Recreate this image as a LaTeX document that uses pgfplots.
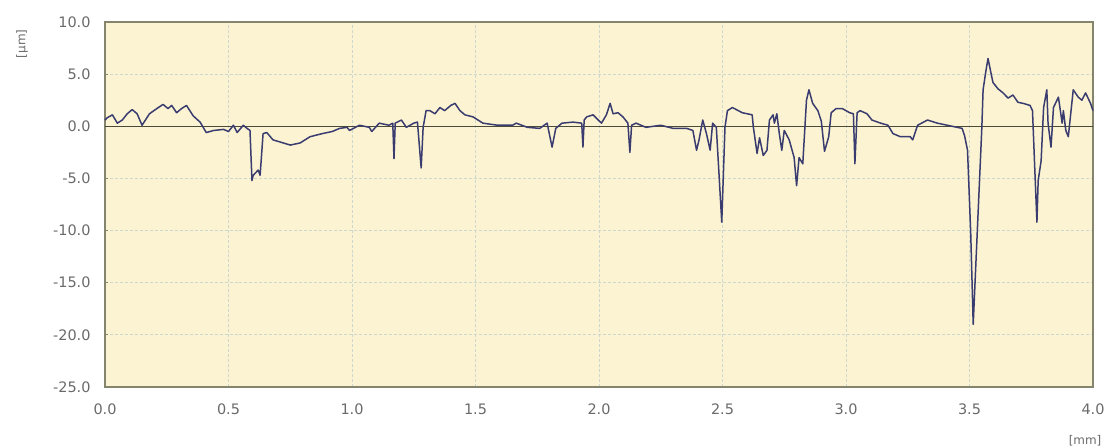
\documentclass[border=0pt]{standalone}
\usepackage{pgfplots}
\pgfplotsset{compat=1.18}
\usepackage{pgfplotstable}
\usepackage{fontspec}
\setmainfont{DejaVu Sans}
\definecolor{bgfill}{HTML}{FBF3D2}
\definecolor{framec}{HTML}{85856E}
\definecolor{gridc}{HTML}{CCD8CE}
\definecolor{linec}{HTML}{3A3C70}
\definecolor{zeroc}{HTML}{4A4A38}
\definecolor{labc}{HTML}{6A6A6A}
\pgfplotstableread{
x y
0.0 0.6
0.008 0.8
0.03 1.1
0.05 0.3
0.07 0.6
0.09 1.2
0.11 1.6
0.13 1.2
0.15 0.1
0.18 1.2
0.21 1.7
0.235 2.1
0.255 1.7
0.27 2.0
0.29 1.3
0.31 1.7
0.33 2.0
0.357 1.0
0.385 0.4
0.41 -0.6
0.44 -0.4
0.48 -0.3
0.50 -0.5
0.52 0.1
0.535 -0.6
0.56 0.1
0.575 -0.2
0.587 -0.4
0.595 -5.2
0.60 -4.7
0.62 -4.2
0.628 -4.7
0.64 -0.7
0.655 -0.6
0.68 -1.3
0.75 -1.8
0.79 -1.6
0.83 -1.0
0.88 -0.7
0.92 -0.5
0.95 -0.2
0.98 -0.1
0.99 -0.4
1.03 0.1
1.07 -0.1
1.08 -0.5
1.11 0.3
1.15 0.1
1.165 0.3
1.17 -3.1
1.175 0.3
1.20 0.6
1.22 -0.1
1.25 0.3
1.265 0.4
1.28 -4.0
1.288 -0.1
1.30 1.5
1.315 1.5
1.336 1.2
1.356 1.8
1.375 1.5
1.40 2.0
1.417 2.2
1.437 1.5
1.457 1.1
1.49 0.9
1.53 0.3
1.59 0.1
1.65 0.1
1.665 0.3
1.71 -0.1
1.76 -0.2
1.79 0.3
1.81 -2.0
1.825 -0.2
1.85 0.3
1.895 0.4
1.93 0.3
1.935 -2.0
1.94 0.6
1.95 0.9
1.976 1.1
2.01 0.3
2.03 1.1
2.045 2.2
2.057 1.2
2.077 1.3
2.097 0.9
2.117 0.3
2.125 -2.5
2.132 0.1
2.15 0.3
2.19 -0.1
2.25 0.1
2.30 -0.2
2.355 -0.2
2.38 -0.4
2.395 -2.3
2.405 -1.3
2.42 0.6
2.435 -0.7
2.45 -2.3
2.46 0.3
2.475 -0.1
2.497 -9.2
2.51 -0.1
2.52 1.5
2.54 1.8
2.58 1.3
2.62 1.1
2.625 -0.1
2.64 -2.6
2.65 -1.1
2.665 -2.8
2.68 -2.3
2.69 0.6
2.705 1.1
2.71 0.3
2.72 1.2
2.73 -0.7
2.74 -2.3
2.75 -0.4
2.77 -1.3
2.79 -3.0
2.80 -5.7
2.81 -3.0
2.825 -3.6
2.84 2.5
2.85 3.5
2.865 2.2
2.886 1.5
2.90 0.5
2.913 -2.4
2.93 -1.0
2.94 1.3
2.96 1.7
2.985 1.7
3.015 1.3
3.03 1.2
3.036 -3.6
3.045 1.3
3.057 1.5
3.085 1.2
3.105 0.6
3.14 0.3
3.17 0.1
3.19 -0.7
3.22 -1.0
3.26 -1.0
3.27 -1.3
3.29 0.1
3.33 0.6
3.37 0.3
3.41 0.1
3.45 -0.1
3.47 -0.2
3.48 -0.9
3.492 -2.3
3.505 -10.3
3.515 -19.0
3.525 -13.6
3.54 -5.5
3.55 -0.1
3.555 3.5
3.567 5.4
3.575 6.5
3.587 5.1
3.595 4.2
3.615 3.6
3.636 3.2
3.656 2.7
3.676 3.0
3.696 2.3
3.717 2.2
3.745 2.0
3.755 1.5
3.765 -4.5
3.773 -9.2
3.778 -5.2
3.79 -3.3
3.80 1.8
3.813 3.5
3.818 0.3
3.83 -2.0
3.84 1.8
3.86 2.8
3.875 0.3
3.88 1.5
3.89 -0.4
3.90 -1.0
3.92 3.5
3.94 2.8
3.955 2.5
3.97 3.2
3.99 2.2
4.0 1.5
}\profile
\begin{document}
\begin{tikzpicture}
\useasboundingbox (0,0) rectangle (1110bp,448bp);
\begin{axis}[
  at={(105bp,61bp)}, anchor=south west,
  scale only axis,
  width=988bp, height=365bp,
  xmin=0, xmax=4, ymin=-25, ymax=10,
  xtick={0,0.5,...,4}, ytick={-25,-20,...,10},
  axis background/.style={fill=bgfill},
  axis line style={framec, line width=1.1pt},
  grid=major,
  major grid style={gridc, line width=0.9pt, dash pattern=on 3pt off 2pt},
  tick style={framec, line width=1pt},
  major tick length=3pt,
  xtick style={draw=none},
  ytick pos=left,
  tick label style={font=\fontsize{14.5}{14.5}\selectfont, text=labc},
  /pgf/number format/assume math mode=true,
  /pgf/number format/.cd, fixed, fixed zerofill, precision=1,
  /tikz/.cd,
  xticklabel style={yshift=-13bp},
  yticklabel style={xshift=-11bp},
  clip=false,
]
\addplot[zeroc, line width=1.1pt, forget plot] coordinates {(0,0) (4,0)};
\addplot[linec, line width=1.5pt, line join=round] table[x=x,y=y] {\profile};
\node[rotate=90, text=labc, font=\fontsize{12}{12}\selectfont] at (rel axis cs:-0.084,0.94) {[µm]};
\node[text=labc, font=\fontsize{12}{12}\selectfont] at (rel axis cs:0.992,-0.148) {[mm]};
\end{axis}
\end{tikzpicture}
\end{document}
